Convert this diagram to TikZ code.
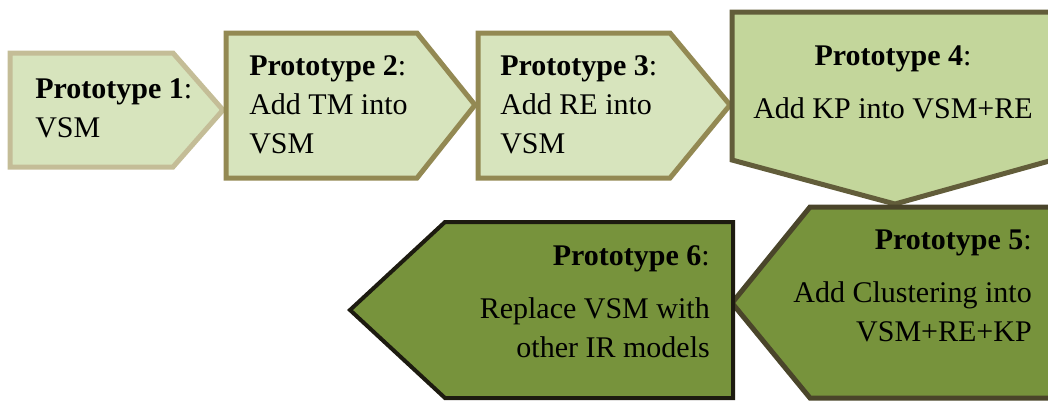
\documentclass[tikz,border=0pt]{standalone}
\usepackage{fontspec}
\setmainfont{Liberation Serif}
\usepackage{tikz}

\definecolor{paleleaf}{HTML}{D7E4BD}
\definecolor{midleaf}{HTML}{C3D69B}
\definecolor{darkleaf}{HTML}{77933C}
\definecolor{tanedge}{HTML}{C4BD97}
\definecolor{oliveedge}{HTML}{938953}
\definecolor{brownedge}{HTML}{625D3A}
\definecolor{deepedge}{HTML}{4A452A}
\definecolor{nightedge}{HTML}{1D1B10}

\tikzset{
  stage/.style={line width=3.75pt, line join=miter},
  stagetext/.style={inner sep=0pt, font=\fontsize{22.5}{29.25}\selectfont}
}

\begin{document}
\begin{tikzpicture}[x=0.75pt,y=-0.75pt]
\useasboundingbox (0,0) rectangle (1048,401);
\clip (0,0) rectangle (1048,401);

% top row, pointing right
\draw[stage,draw=tanedge,fill=paleleaf] (10,53) -- (173,53) -- (223,110) -- (173,167) -- (10,167) -- cycle;
\node[stagetext,anchor=north west,align=left] (p1) at (35,78) {\textbf{Prototype 1}:\\VSM};

\draw[stage,draw=oliveedge,fill=paleleaf] (226,33) -- (417,33) -- (475,105) -- (417,178) -- (226,178) -- cycle;
\node[stagetext,anchor=north west,align=left] (p2) at (249,55) {\textbf{Prototype 2}:\\Add TM into\\VSM};

\draw[stage,draw=oliveedge,fill=paleleaf] (478,33) -- (670,33) -- (730,105) -- (670,178) -- (478,178) -- cycle;
\node[stagetext,anchor=north west,align=left] (p3) at (500,55) {\textbf{Prototype 3}:\\Add RE into\\VSM};

% turning down
\draw[stage,draw=brownedge,fill=midleaf] (732,12) -- (1060,12) -- (1060,158) -- (895,204) -- (732,160) -- cycle;
\node[stagetext,anchor=north,align=center] (p4) at (893,45) {\textbf{Prototype 4}:\\[10.5pt]Add KP into VSM+RE};

% bottom row, pointing left
\draw[stage,draw=deepedge,fill=darkleaf] (1060,207) -- (810,207) -- (732,303) -- (810,398) -- (1060,398) -- cycle;
\node[stagetext,anchor=north east,align=right] (p5) at (1032,230) {\textbf{Prototype 5}:\\[10.5pt]Add Clustering into\\VSM+RE+KP};

\draw[stage,line width=3pt,draw=nightedge,fill=darkleaf] (733,222) -- (445,222) -- (350,310) -- (445,398) -- (733,398) -- cycle;
\node[stagetext,anchor=north east,align=right] (p6) at (710,245) {\textbf{Prototype 6}:\\[11pt]Replace VSM with\\other IR models};

\end{tikzpicture}
\end{document}
